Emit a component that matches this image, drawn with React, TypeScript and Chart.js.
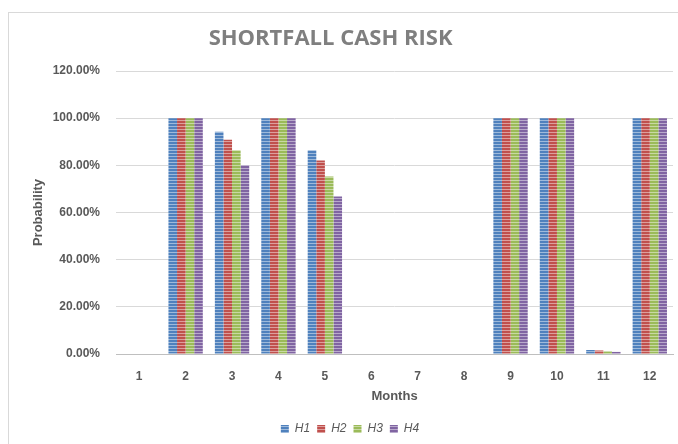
import React, { useEffect, useRef } from "react";
import { Chart, registerables } from "chart.js";

Chart.register(...registerables);

const TITLE = "SHORTFALL CASH RISK";
const CATEGORIES = ["1", "2", "3", "4", "5", "6", "7", "8", "9", "10", "11", "12"];
const SERIES_NAMES = ["H1", "H2", "H3", "H4"];
const H1 = [0, 1, 0.942, 1, 0.864, 0, 0, 0, 1, 1, 0.017, 1];
const H2 = [0, 1, 0.909, 1, 0.82, 0, 0, 0, 1, 1, 0.015, 1];
const H3 = [0, 1, 0.864, 1, 0.753, 0, 0, 0, 1, 1, 0.012, 1];
const H4 = [0, 1, 0.8, 1, 0.668, 0, 0, 0, 1, 1, 0.009, 1];
const SERIES_VALUES = [H1, H2, H3, H4];
const SERIES_COLORS = ["#4F81BD", "#C0504D", "#9BBB59", "#8064A2"];
const Y_MIN = 0;
const Y_MAX = 1.2;
const Y_STEP = 0.2;

const TEXT_COLOR = "#595959";

function makePattern(color: string): CanvasPattern | string {
  const c = document.createElement("canvas");
  c.width = 4;
  c.height = 3;
  const ctx = c.getContext("2d");
  if (!ctx) return color;
  ctx.fillStyle = color;
  ctx.fillRect(0, 0, 4, 3);
  ctx.fillStyle = "rgba(255,255,255,0.45)";
  ctx.fillRect(0, 2, 4, 1);
  return ctx.createPattern(c, "repeat") || color;
}

const titlePlugin = {
  id: "customTitle",
  afterDraw(chart: any) {
    const ctx = chart.ctx;
    ctx.save();
    ctx.font = 'bold 22px "Liberation Sans Narrow", "Open Sans", sans-serif';
    ctx.fillStyle = "#7f7f7f";
    ctx.textAlign = "center";
    ctx.textBaseline = "middle";
    ctx.fillText(TITLE, chart.width * 0.48, 26);
    ctx.restore();
  },
};

export default function App() {
  const ref = useRef<HTMLCanvasElement | null>(null);

  useEffect(() => {
    if (!ref.current) return;
    const chart = new Chart(ref.current, {
      type: "bar",
      data: {
        labels: CATEGORIES,
        datasets: SERIES_NAMES.map((name, i) => ({
          label: name,
          data: SERIES_VALUES[i],
          backgroundColor: makePattern(SERIES_COLORS[i]) as any,
          borderWidth: 0,
          categoryPercentage: 0.74,
          barPercentage: 1,
        })),
      },
      options: {
        animation: false,
        responsive: true,
        maintainAspectRatio: false,
        layout: { padding: { left: 18, right: 6, top: 58, bottom: 0 } },
        plugins: {
          title: { display: false },
          tooltip: { enabled: false },
          legend: {
            position: "bottom",
            labels: {
              boxWidth: 8,
              boxHeight: 8,
              padding: 7,
              color: TEXT_COLOR,
              font: { family: "'Liberation Sans', Arial, sans-serif", size: 12, style: "italic" },
            },
          },
        },
        scales: {
          x: {
            grid: { display: false, drawTicks: false },
            border: { display: true, color: "#bfbfbf", width: 1 },
            ticks: {
              color: TEXT_COLOR,
              padding: 15,
              font: { family: "'Liberation Sans', Arial, sans-serif", size: 12, weight: "bold" },
            },
            title: {
              display: true,
              text: "Months",
              color: TEXT_COLOR,
              padding: { top: -10, bottom: 12 },
              font: { family: "'Liberation Sans', Arial, sans-serif", size: 13, weight: "bold" },
            },
          },
          y: {
            min: Y_MIN,
            max: Y_MAX,
            afterFit(scale: any) {
              scale.width = 89;
            },
            grid: { color: "#d9d9d9", drawTicks: false },
            border: { display: false },
            ticks: {
              stepSize: Y_STEP,
              color: TEXT_COLOR,
              padding: 16,
              font: { family: "'Liberation Sans', Arial, sans-serif", size: 12, weight: "bold" },
              callback: (v: any) => (Number(v) * 100).toFixed(2) + "%",
            },
            title: {
              display: true,
              text: "Probability",
              color: TEXT_COLOR,
              padding: { top: 4, bottom: 0 },
              font: { family: "'Liberation Sans', Arial, sans-serif", size: 13, weight: "bold" },
            },
          },
        },
      },
      plugins: [titlePlugin],
    });
    return () => chart.destroy();
  }, []);

  return (
    <div
      style={{
        position: "fixed",
        left: 8,
        top: 12,
        width: 670,
        height: 432,
        borderTop: "1px solid #d9d9d9",
        borderLeft: "1px solid #d9d9d9",
        overflow: "hidden",
        background: "#fff",
      }}
    >
      <canvas ref={ref} />
    </div>
  );
}
